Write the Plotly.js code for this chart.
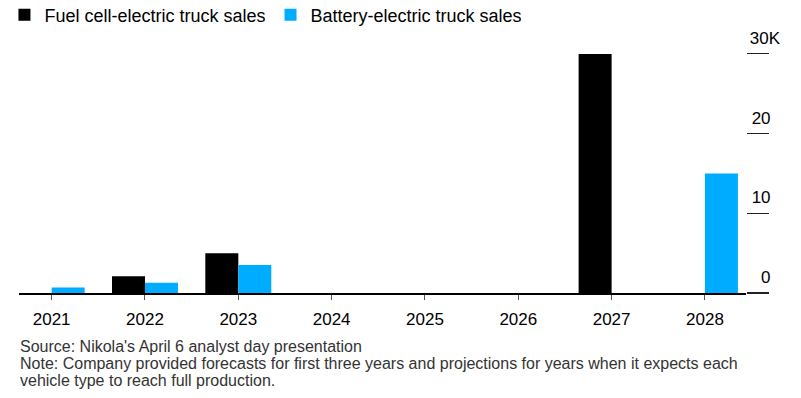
<!DOCTYPE html>
<html>
<head>
<meta charset="utf-8">
<script src="https://cdn.plot.ly/plotly-3.0.1.min.js"></script>
<style>
html,body{margin:0;padding:0;background:#fff;}
#chart{width:801px;height:398px;}
</style>
</head>
<body>
<div id="chart"></div>
<script>
const years = ['2021','2022','2023','2024','2025','2026','2027','2028'];
const fuelCellSales = [0, 2100, 5000, 0, 0, 0, 30000, 0];
const batterySales = [700, 1300, 3500, 0, 0, 0, 0, 15000];
const yTickVals = [0, 10000, 20000, 30000];
const yTickText = ['0\u00a0\u00a0', '10\u00a0\u00a0', '20\u00a0\u00a0', '30K'];
const footnotes = [
  "Source: Nikola's April 6 analyst day presentation",
  "Note: Company provided forecasts for first three years and projections for years when it expects each",
  "vehicle type to reach full production."
];

const FONT = 'Liberation Sans, Arial, sans-serif';
const plotBottom = 293.5;
const plotTop = 21.5;
const H = 398;
const plotH = plotBottom - plotTop;

const traces = [
  {type:'bar', name:'Fuel cell-electric truck sales', x: years, y: fuelCellSales,
   marker:{color:'#000000'}, hoverinfo:'skip'},
  {type:'bar', name:'Battery-electric truck sales', x: years, y: batterySales,
   marker:{color:'#00ACFF'}, hoverinfo:'skip'}
];

const footY = [347, 364, 381];
const annotations = footnotes.map((t, i) => ({
  text: t, xref:'paper', yref:'paper', x:0, y:0, xanchor:'left', yanchor:'middle',
  yshift: -(footY[i] - plotBottom), showarrow:false, align:'left', borderpad:0,
  font:{family:FONT, size:16, color:'#333333'}
}));

const layout = {
  width:801, height:398,
  margin:{l:19, r:55, t:plotTop, b:H - plotBottom, autoexpand:false},
  paper_bgcolor:'#ffffff', plot_bgcolor:'#ffffff',
  barmode:'group', bargap:0.293, bargroupgap:0,
  showlegend:true,
  legend:{orientation:'h', x:-0.02, xanchor:'left', y:(plotBottom + 4) / plotH, yanchor:'top',
          font:{family:FONT, size:18, color:'#000'}, traceorder:'normal', itemclick:false},
  xaxis:{type:'category', range:[-0.35, 7.44], showline:true, linecolor:'#000', linewidth:1.5,
         ticks:'outside', ticklen:5, tickcolor:'#555', tickwidth:1, ticklabelstandoff:5,
         tickfont:{family:FONT, size:17, color:'#000'}, showgrid:false, zeroline:false, fixedrange:true},
  yaxis:{side:'right', range:[0, 34000], tickvals:yTickVals, ticktext:yTickText,
         ticks:'outside', ticklen:22, tickcolor:'#222', tickwidth:1.2,
         ticklabelposition:'inside', ticklabelstandoff:-37, ticklabelshift:-16,
         tickfont:{family:FONT, size:17, color:'#000'}, showgrid:false, zeroline:false,
         showline:false, fixedrange:true},
  annotations: annotations
};

Plotly.newPlot('chart', traces, layout, {displayModeBar:false, staticPlot:true});
</script>
</body>
</html>
